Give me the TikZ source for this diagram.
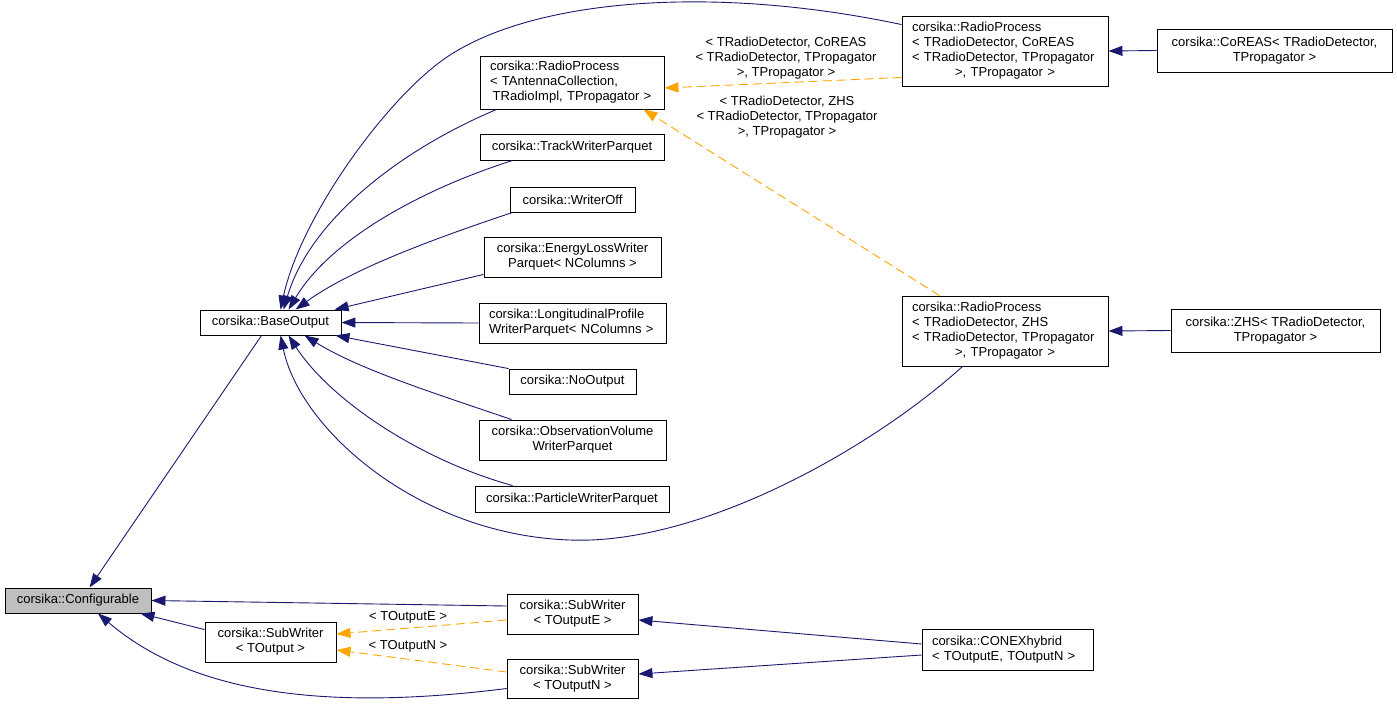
\documentclass[tikz,border=0pt]{standalone}
\usepackage{fontspec}
\setmainfont{Liberation Sans}
\usetikzlibrary{arrows.meta}
\definecolor{edgeblue}{HTML}{191970}
\definecolor{edgeorange}{HTML}{FFA500}
\definecolor{grayfill}{HTML}{BFBFBF}
\begin{document}
\begin{tikzpicture}[x=1pt,y=-1pt,
  box/.style={draw=black, line width=0.9pt, fill=white, inner sep=0pt,
    font=\fontsize{13}{15}\selectfont, align=center},
  lbox/.style={box, align=left, text width=#1},
  lbl/.style={inner sep=0pt, font=\fontsize{13}{15}\selectfont, align=center},
  bedge/.style={draw=edgeblue, line width=0.9pt, -{Triangle[length=14pt,width=10pt]}},
  oedge/.style={draw=edgeorange, line width=0.9pt, dash pattern=on 9pt off 5pt,
    -{Triangle[length=14pt,width=10pt]}}]
\useasboundingbox (0,0) rectangle (1397,705);

% nodes
\node[box, minimum width=141pt, minimum height=25pt] (base) at (270.5,322.5) {corsika::BaseOutput};
\node[lbox=164pt, minimum width=184pt, minimum height=53pt] (rpA) at (572,82.5)
  {corsika::RadioProcess\\< TAntennaCollection,\\\makebox[\linewidth]{TRadioImpl, TPropagator >}};
\node[lbox=186pt, minimum width=206pt, minimum height=70pt] (rpC) at (1005,51)
  {corsika::RadioProcess\\< TRadioDetector, CoREAS\\< TRadioDetector, TPropagator\\\makebox[\linewidth]{>, TPropagator >}};
\node[box, minimum width=235pt, minimum height=43pt] (coreas) at (1274.5,50.5)
  {corsika::CoREAS< TRadioDetector,\\TPropagator >};
\node[lbox=186pt, minimum width=206pt, minimum height=70pt] (rpZ) at (1005,331)
  {corsika::RadioProcess\\< TRadioDetector, ZHS\\< TRadioDetector, TPropagator\\\makebox[\linewidth]{>, TPropagator >}};
\node[box, minimum width=209pt, minimum height=43pt] (zhs) at (1275.5,330.5)
  {corsika::ZHS< TRadioDetector,\\TPropagator >};
\node[box, minimum width=184pt, minimum height=26pt] (track) at (572,147) {corsika::TrackWriterParquet};
\node[box, minimum width=125pt, minimum height=25pt] (woff) at (572.5,199.5) {corsika::WriterOff};
\node[box, minimum width=177pt, minimum height=40pt] (eloss) at (572.5,257)
  {corsika::EnergyLossWriter\\Parquet< NColumns >};
\node[lbox=167pt, minimum width=187pt, minimum height=40pt] (longi) at (572.5,323)
  {corsika::LongitudinalProfile\\WriterParquet< NColumns >};
\node[box, minimum width=127pt, minimum height=25pt] (noout) at (572.5,381.5) {corsika::NoOutput};
\node[box, minimum width=187pt, minimum height=40pt] (obsv) at (572.5,440)
  {corsika::ObservationVolume\\WriterParquet};
\node[box, minimum width=194pt, minimum height=26pt] (part) at (572,499) {corsika::ParticleWriterParquet};
\node[box, fill=grayfill, minimum width=146pt, minimum height=25pt] (conf) at (78,600.5) {corsika::Configurable};
\node[box, minimum width=131pt, minimum height=40pt] (swT) at (270.5,642) {corsika::SubWriter\\< TOutput >};
\node[box, minimum width=131pt, minimum height=40pt] (swE) at (572.5,614) {corsika::SubWriter\\< TOutputE >};
\node[box, minimum width=131pt, minimum height=39pt] (swN) at (572.5,678.5) {corsika::SubWriter\\< TOutputN >};
\node[lbox=151pt, minimum width=171pt, minimum height=41pt] (conex) at (1007.5,649.5)
  {corsika::CONEXhybrid\\< TOutputE, TOutputN >};

% edge labels
\node[lbl] (lblC) at (786,58.5) {< TRadioDetector, CoREAS\\< TRadioDetector, TPropagator\\>, TPropagator >};
\node[lbl] (lblZ) at (787,117) {< TRadioDetector, ZHS\\< TRadioDetector, TPropagator\\>, TPropagator >};
\node[lbl] (lblE) at (408,617) {< TOutputE >};
\node[lbl] (lblN) at (408,646) {< TOutputN >};

% edges into BaseOutput
\draw[bedge] ([yshift=-9pt]rpC.north west) .. controls (700,-18) and (520,2) .. (440,62)
   .. controls (380,107) and (300,220) .. ([xshift=81pt]base.north west);
\draw[bedge] ([xshift=17pt]rpA.south west) .. controls (400,150) and (310,220) .. ([xshift=84pt]base.north west);
\draw[bedge] ([xshift=33pt]track.south west) .. controls (420,190) and (330,240) .. ([xshift=89pt]base.north west);
\draw[bedge] ([xshift=3pt]woff.south west) .. controls (430,240) and (350,270) .. ([xshift=96pt]base.north west);
\draw[bedge] ([yshift=3pt]eloss.south west) -- ([xshift=135pt]base.north west);
\draw[bedge] (longi.west) -- (base.east);
\draw[bedge] (noout.north west) -- ([xshift=-6pt]base.south east);
\draw[bedge] ([xshift=33pt]obsv.north west) .. controls (440,395) and (360,370) .. ([xshift=105pt]base.south west);
\draw[bedge] ([xshift=38pt]part.north west) .. controls (420,460) and (330,400) .. ([xshift=89pt]base.south west);
\draw[bedge] ([xshift=61pt]rpZ.south west) .. controls (870,450) and (700,545) .. (570,540)
   .. controls (420,535) and (300,430) .. ([xshift=81pt]base.south west);

% edges into Configurable
\draw[bedge] ([xshift=62pt]base.south west) -- ([xshift=85pt]conf.north west);
\draw[bedge] ([yshift=8pt]swE.west) -- (conf.east);
\draw[bedge] ([yshift=-8pt]swT.north west) -- ([xshift=-11pt]conf.south east);
\draw[bedge] ([yshift=-10pt]swN.west) .. controls (320,712) and (190,692) .. ([xshift=20pt]conf.south);

% template instances
\draw[oedge] ([yshift=-6pt]swE.west) -- ([yshift=8pt]swT.east);
\draw[oedge] ([yshift=6.5pt]swN.west) -- ([yshift=-8pt]swT.east);
\draw[oedge] ([yshift=9pt]rpC.south west) -- ([yshift=-5.5pt]rpA.east);
\draw[oedge] ([xshift=38pt]rpZ.north west) -- ([xshift=-21pt]rpA.south east);

% CONEXhybrid
\draw[bedge] ([yshift=5.5pt]conex.west) -- ([yshift=-6pt]swE.east);
\draw[bedge] ([yshift=-5.5pt]conex.west) -- ([yshift=4.5pt]swN.east);

% right column
\draw[bedge] (coreas.west) -- (rpC.east);
\draw[bedge] (zhs.west) -- (rpZ.east);
\end{tikzpicture}
\end{document}
